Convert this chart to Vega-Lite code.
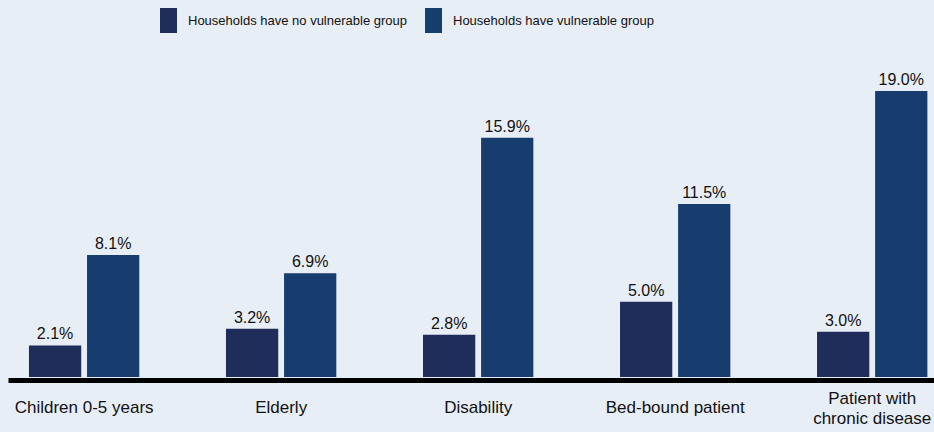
{
  "$schema": "https://vega.github.io/schema/vega-lite/v6.json",
  "width": 926,
  "height": 301,
  "autosize": {"type": "none"},
  "padding": {"left": 8, "top": 76, "right": 0, "bottom": 55},
  "background": "#E8EEF5",
  "config": {"view": {"stroke": null}, "font": "Liberation Sans"},
  "data": {
    "values": [
      {"category": "Children 0-5 years", "group": "Households have no vulnerable group", "value": 0.021},
      {"category": "Children 0-5 years", "group": "Households have  vulnerable group", "value": 0.081},
      {"category": "Elderly", "group": "Households have no vulnerable group", "value": 0.032},
      {"category": "Elderly", "group": "Households have  vulnerable group", "value": 0.069},
      {"category": "Disability", "group": "Households have no vulnerable group", "value": 0.028},
      {"category": "Disability", "group": "Households have  vulnerable group", "value": 0.159},
      {"category": "Bed-bound patient", "group": "Households have no vulnerable group", "value": 0.05},
      {"category": "Bed-bound patient", "group": "Households have  vulnerable group", "value": 0.115},
      {"category": "Patient with chronic disease", "group": "Households have no vulnerable group", "value": 0.03},
      {"category": "Patient with chronic disease", "group": "Households have  vulnerable group", "value": 0.19}
    ]
  },
  "encoding": {
    "x": {
      "field": "category",
      "type": "nominal",
      "sort": null,
      "scale": {"paddingInner": 0.44, "paddingOuter": 0.07, "align": 0.76},
      "axis": {
        "title": null,
        "domainColor": "#000000",
        "domainWidth": 5,
        "ticks": false,
        "offset": 3,
        "labelAngle": 0,
        "labelFontSize": 17,
        "labelColor": "#111111",
        "labelBaseline": "middle",
        "labelPadding": {"condition": {"test": "datum.value == 'Patient with chronic disease'", "value": 18}, "value": 27},
        "labelLineHeight": 20,
        "labelLimit": 300,
        "labelExpr": "datum.value == 'Patient with chronic disease' ? ['Patient with', 'chronic disease'] : datum.value"
      }
    },
    "xOffset": {
      "field": "group",
      "type": "nominal",
      "sort": ["Households have no vulnerable group", "Households have  vulnerable group"],
      "scale": {"paddingInner": 0.1}
    },
    "y": {
      "field": "value",
      "type": "quantitative",
      "scale": {"domain": [0, 0.2]},
      "axis": null
    }
  },
  "layer": [
    {
      "mark": {"type": "bar"},
      "encoding": {
        "color": {
          "field": "group",
          "type": "nominal",
          "scale": {
            "domain": ["Households have no vulnerable group", "Households have  vulnerable group"],
            "range": ["#1F2D5B", "#173D6E"]
          },
          "legend": {
            "orient": "none",
            "legendX": 148,
            "legendY": -68,
            "direction": "horizontal",
            "title": null,
            "padding": 0,
            "symbolType": "M-0.68,-1L0.68,-1L0.68,1L-0.68,1Z",
            "symbolSize": 625,
            "symbolStrokeWidth": 0,
            "symbolOpacity": 1,
            "labelFont": "Liberation Sans",
            "labelFontSize": 13,
            "labelColor": "#111111",
            "labelOffset": 7,
            "labelLimit": 400,
            "columnPadding": 14
          }
        }
      }
    },
    {
      "mark": {"type": "text", "baseline": "alphabetic", "dy": -6, "fontSize": 16, "color": "#111111"},
      "encoding": {
        "text": {"field": "value", "type": "quantitative", "format": ".1%"}
      }
    }
  ]
}
